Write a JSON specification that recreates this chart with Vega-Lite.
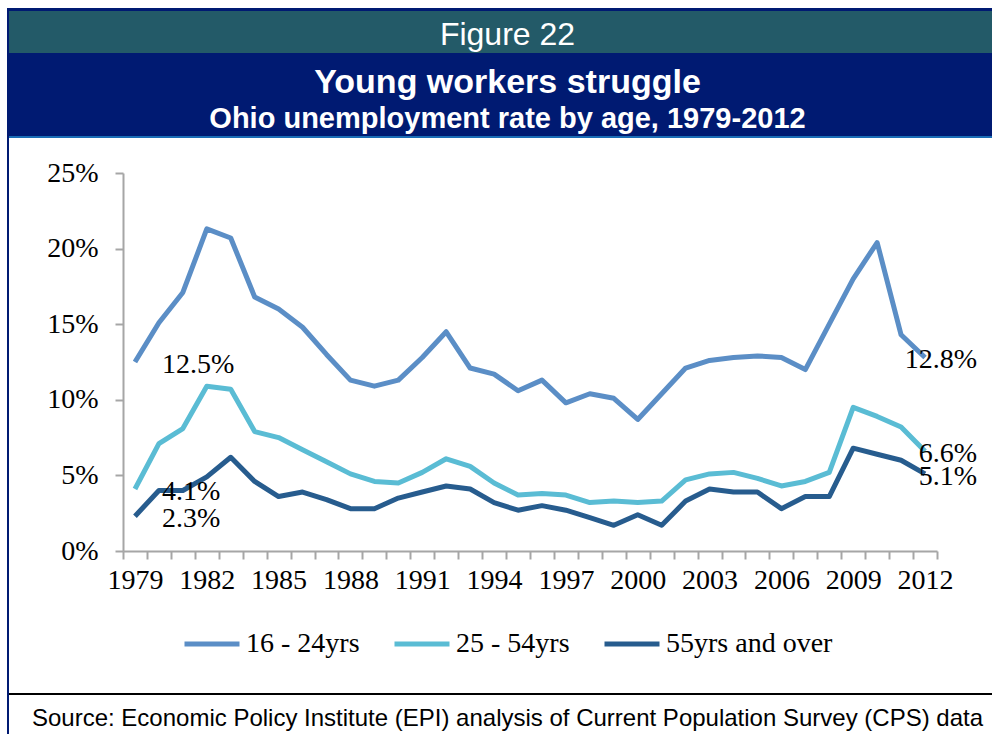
{
  "$schema": "https://vega.github.io/schema/vega-lite/v6.json",
  "background": "white",
  "padding": {"left": 7, "top": 8, "right": 0, "bottom": 0},
  "spacing": 0,
  "config": {
    "view": {"stroke": null},
    "concat": {"spacing": 0}
  },
  "datasets": {
    "unemp": [
      {"year": 1979, "age": "16 - 24yrs", "rate": 0.125, "label": "12.5%"},
      {"year": 1980, "age": "16 - 24yrs", "rate": 0.151},
      {"year": 1981, "age": "16 - 24yrs", "rate": 0.171},
      {"year": 1982, "age": "16 - 24yrs", "rate": 0.213},
      {"year": 1983, "age": "16 - 24yrs", "rate": 0.207},
      {"year": 1984, "age": "16 - 24yrs", "rate": 0.168},
      {"year": 1985, "age": "16 - 24yrs", "rate": 0.160},
      {"year": 1986, "age": "16 - 24yrs", "rate": 0.148},
      {"year": 1987, "age": "16 - 24yrs", "rate": 0.130},
      {"year": 1988, "age": "16 - 24yrs", "rate": 0.113},
      {"year": 1989, "age": "16 - 24yrs", "rate": 0.109},
      {"year": 1990, "age": "16 - 24yrs", "rate": 0.113},
      {"year": 1991, "age": "16 - 24yrs", "rate": 0.128},
      {"year": 1992, "age": "16 - 24yrs", "rate": 0.145},
      {"year": 1993, "age": "16 - 24yrs", "rate": 0.121},
      {"year": 1994, "age": "16 - 24yrs", "rate": 0.117},
      {"year": 1995, "age": "16 - 24yrs", "rate": 0.106},
      {"year": 1996, "age": "16 - 24yrs", "rate": 0.113},
      {"year": 1997, "age": "16 - 24yrs", "rate": 0.098},
      {"year": 1998, "age": "16 - 24yrs", "rate": 0.104},
      {"year": 1999, "age": "16 - 24yrs", "rate": 0.101},
      {"year": 2000, "age": "16 - 24yrs", "rate": 0.087},
      {"year": 2001, "age": "16 - 24yrs", "rate": 0.104},
      {"year": 2002, "age": "16 - 24yrs", "rate": 0.121},
      {"year": 2003, "age": "16 - 24yrs", "rate": 0.126},
      {"year": 2004, "age": "16 - 24yrs", "rate": 0.128},
      {"year": 2005, "age": "16 - 24yrs", "rate": 0.129},
      {"year": 2006, "age": "16 - 24yrs", "rate": 0.128},
      {"year": 2007, "age": "16 - 24yrs", "rate": 0.120},
      {"year": 2008, "age": "16 - 24yrs", "rate": 0.150},
      {"year": 2009, "age": "16 - 24yrs", "rate": 0.180},
      {"year": 2010, "age": "16 - 24yrs", "rate": 0.204},
      {"year": 2011, "age": "16 - 24yrs", "rate": 0.143},
      {"year": 2012, "age": "16 - 24yrs", "rate": 0.128, "label": "12.8%"},
      {"year": 1979, "age": "25 - 54yrs", "rate": 0.041, "label": "4.1%"},
      {"year": 1980, "age": "25 - 54yrs", "rate": 0.071},
      {"year": 1981, "age": "25 - 54yrs", "rate": 0.081},
      {"year": 1982, "age": "25 - 54yrs", "rate": 0.109},
      {"year": 1983, "age": "25 - 54yrs", "rate": 0.107},
      {"year": 1984, "age": "25 - 54yrs", "rate": 0.079},
      {"year": 1985, "age": "25 - 54yrs", "rate": 0.075},
      {"year": 1986, "age": "25 - 54yrs", "rate": 0.067},
      {"year": 1987, "age": "25 - 54yrs", "rate": 0.059},
      {"year": 1988, "age": "25 - 54yrs", "rate": 0.051},
      {"year": 1989, "age": "25 - 54yrs", "rate": 0.046},
      {"year": 1990, "age": "25 - 54yrs", "rate": 0.045},
      {"year": 1991, "age": "25 - 54yrs", "rate": 0.052},
      {"year": 1992, "age": "25 - 54yrs", "rate": 0.061},
      {"year": 1993, "age": "25 - 54yrs", "rate": 0.056},
      {"year": 1994, "age": "25 - 54yrs", "rate": 0.045},
      {"year": 1995, "age": "25 - 54yrs", "rate": 0.037},
      {"year": 1996, "age": "25 - 54yrs", "rate": 0.038},
      {"year": 1997, "age": "25 - 54yrs", "rate": 0.037},
      {"year": 1998, "age": "25 - 54yrs", "rate": 0.032},
      {"year": 1999, "age": "25 - 54yrs", "rate": 0.033},
      {"year": 2000, "age": "25 - 54yrs", "rate": 0.032},
      {"year": 2001, "age": "25 - 54yrs", "rate": 0.033},
      {"year": 2002, "age": "25 - 54yrs", "rate": 0.047},
      {"year": 2003, "age": "25 - 54yrs", "rate": 0.051},
      {"year": 2004, "age": "25 - 54yrs", "rate": 0.052},
      {"year": 2005, "age": "25 - 54yrs", "rate": 0.048},
      {"year": 2006, "age": "25 - 54yrs", "rate": 0.043},
      {"year": 2007, "age": "25 - 54yrs", "rate": 0.046},
      {"year": 2008, "age": "25 - 54yrs", "rate": 0.052},
      {"year": 2009, "age": "25 - 54yrs", "rate": 0.095},
      {"year": 2010, "age": "25 - 54yrs", "rate": 0.089},
      {"year": 2011, "age": "25 - 54yrs", "rate": 0.082},
      {"year": 2012, "age": "25 - 54yrs", "rate": 0.066, "label": "6.6%"},
      {"year": 1979, "age": "55yrs and over", "rate": 0.023, "label": "2.3%"},
      {"year": 1980, "age": "55yrs and over", "rate": 0.040},
      {"year": 1981, "age": "55yrs and over", "rate": 0.040},
      {"year": 1982, "age": "55yrs and over", "rate": 0.049},
      {"year": 1983, "age": "55yrs and over", "rate": 0.062},
      {"year": 1984, "age": "55yrs and over", "rate": 0.046},
      {"year": 1985, "age": "55yrs and over", "rate": 0.036},
      {"year": 1986, "age": "55yrs and over", "rate": 0.039},
      {"year": 1987, "age": "55yrs and over", "rate": 0.034},
      {"year": 1988, "age": "55yrs and over", "rate": 0.028},
      {"year": 1989, "age": "55yrs and over", "rate": 0.028},
      {"year": 1990, "age": "55yrs and over", "rate": 0.035},
      {"year": 1991, "age": "55yrs and over", "rate": 0.039},
      {"year": 1992, "age": "55yrs and over", "rate": 0.043},
      {"year": 1993, "age": "55yrs and over", "rate": 0.041},
      {"year": 1994, "age": "55yrs and over", "rate": 0.032},
      {"year": 1995, "age": "55yrs and over", "rate": 0.027},
      {"year": 1996, "age": "55yrs and over", "rate": 0.030},
      {"year": 1997, "age": "55yrs and over", "rate": 0.027},
      {"year": 1998, "age": "55yrs and over", "rate": 0.022},
      {"year": 1999, "age": "55yrs and over", "rate": 0.017},
      {"year": 2000, "age": "55yrs and over", "rate": 0.024},
      {"year": 2001, "age": "55yrs and over", "rate": 0.017},
      {"year": 2002, "age": "55yrs and over", "rate": 0.033},
      {"year": 2003, "age": "55yrs and over", "rate": 0.041},
      {"year": 2004, "age": "55yrs and over", "rate": 0.039},
      {"year": 2005, "age": "55yrs and over", "rate": 0.039},
      {"year": 2006, "age": "55yrs and over", "rate": 0.028},
      {"year": 2007, "age": "55yrs and over", "rate": 0.036},
      {"year": 2008, "age": "55yrs and over", "rate": 0.036},
      {"year": 2009, "age": "55yrs and over", "rate": 0.068},
      {"year": 2010, "age": "55yrs and over", "rate": 0.064},
      {"year": 2011, "age": "55yrs and over", "rate": 0.060},
      {"year": 2012, "age": "55yrs and over", "rate": 0.051, "label": "5.1%"}
    ],
    "blank": [{"t": ""}]
  },
  "hconcat": [
    {
      "width": 2, "height": 726,
      "view": {"fill": "#001A72", "stroke": null},
      "data": {"name": "blank"},
      "mark": {"type": "text", "fontSize": 1},
      "encoding": {"text": {"field": "t"}}
    },
    {
      "spacing": 0,
      "vconcat": [
        {
          "width": 997, "height": 3,
          "view": {"fill": "#001A72", "stroke": null},
          "data": {"name": "blank"},
          "mark": {"type": "text", "fontSize": 1},
          "encoding": {"text": {"field": "t"}}
        },
        {
          "width": 997, "height": 42,
          "view": {"fill": "#235A68", "stroke": null},
          "data": {"values": [{"t": "Figure 22"}]},
          "mark": {"type": "text", "font": "Liberation Sans", "fontSize": 32, "color": "white", "baseline": "middle", "dy": 3},
          "encoding": {"text": {"field": "t"}}
        },
        {
          "width": 997, "height": 83,
          "view": {"fill": "#001A72", "stroke": null},
          "layer": [
            {
              "data": {"values": [{"t": "Young workers struggle"}]},
              "mark": {"type": "text", "font": "Liberation Sans", "fontWeight": "bold", "fontSize": 34, "color": "white", "baseline": "middle", "dy": -12},
              "encoding": {"text": {"field": "t"}}
            },
            {
              "data": {"values": [{"t": "Ohio unemployment rate by age, 1979-2012"}]},
              "mark": {"type": "text", "font": "Liberation Sans", "fontWeight": "bold", "fontSize": 29, "color": "white", "baseline": "middle", "dy": 24},
              "encoding": {"text": {"field": "t"}}
            }
          ]
        },
        {
          "width": 997, "height": 2,
          "view": {"fill": "#1A6DB6", "stroke": null},
          "data": {"name": "blank"},
          "mark": {"type": "text", "fontSize": 1},
          "encoding": {"text": {"field": "t"}}
        },
        {
          "width": 997, "height": 21,
          "data": {"name": "blank"},
          "mark": {"type": "text", "fontSize": 1},
          "encoding": {"text": {"field": "t"}}
        },
        {
          "spacing": 0,
          "hconcat": [
            {
              "width": 1, "height": 378,
              "data": {"name": "blank"},
              "mark": {"type": "text", "fontSize": 1},
              "encoding": {"text": {"field": "t"}}
            },
            {
              "width": 814, "height": 378,
              "data": {"name": "unemp"},
              "encoding": {
                "x": {
                  "field": "year", "type": "ordinal", "bandPosition": 0.5,
                  "scale": {"type": "band", "paddingInner": 0, "paddingOuter": 0},
                  "axis": {
                    "title": null,
                    "labelExpr": "(datum.value - 1979) % 3 === 0 ? datum.label : ''",
                    "labelAngle": 0, "labelOverlap": false,
                    "labelFont": "Liberation Serif", "labelFontSize": 28, "labelColor": "black",
                    "labelPadding": 7,
                    "tickBand": "extent", "tickSize": 8, "tickWidth": 2, "tickColor": "#A6A6A6",
                    "domainColor": "#A6A6A6", "domainWidth": 2, "grid": false
                  }
                },
                "y": {
                  "field": "rate", "type": "quantitative",
                  "scale": {"domain": [0, 0.25]},
                  "axis": {
                    "title": null,
                    "values": [0, 0.05, 0.1, 0.15, 0.2, 0.25],
                    "format": ".0%",
                    "labelFont": "Liberation Serif", "labelFontSize": 28, "labelColor": "black",
                    "labelPadding": 17, "minExtent": 113, "maxExtent": 113,
                    "tickSize": 8, "tickWidth": 2, "tickColor": "#A6A6A6",
                    "domainColor": "#A6A6A6", "domainWidth": 2, "grid": false
                  }
                }
              },
              "layer": [
                {
                  "mark": {"type": "line", "strokeWidth": 5, "strokeJoin": "round"},
                  "encoding": {
                    "color": {
                      "field": "age", "type": "nominal",
                      "scale": {"domain": ["16 - 24yrs", "25 - 54yrs", "55yrs and over"], "range": ["#5B8EC6", "#5ABCD4", "#275C8E"]},
                      "legend": {
                        "orient": "none", "legendX": 175, "legendY": 606,
                        "direction": "horizontal", "columns": 3, "title": null,
                        "symbolType": "stroke", "symbolStrokeWidth": 5, "symbolSize": 3025,
                        "labelFont": "Liberation Serif", "labelFontSize": 28, "labelColor": "black",
                        "labelOffset": 4, "columnPadding": 24, "labelLimit": 400
                      }
                    }
                  }
                },
                {
                  "transform": [{"filter": "datum.year === 1979"}],
                  "mark": {"type": "text", "align": "left", "baseline": "middle", "dx": 27, "dy": 3, "font": "Liberation Serif", "fontSize": 28, "color": "black"},
                  "encoding": {"text": {"field": "label"}}
                },
                {
                  "transform": [{"filter": "datum.year === 2012"}],
                  "mark": {"type": "text", "align": "right", "baseline": "middle", "dx": 52, "dy": 3, "font": "Liberation Serif", "fontSize": 28, "color": "black"},
                  "encoding": {"text": {"field": "label"}}
                }
              ]
            }
          ]
        },
        {
          "width": 997, "height": 99,
          "data": {"name": "blank"},
          "mark": {"type": "text", "fontSize": 1},
          "encoding": {"text": {"field": "t"}}
        },
        {
          "width": 997, "height": 2,
          "view": {"fill": "black", "stroke": null},
          "data": {"name": "blank"},
          "mark": {"type": "text", "fontSize": 1},
          "encoding": {"text": {"field": "t"}}
        },
        {
          "width": 997, "height": 39,
          "data": {"values": [{"t": "Source:  Economic Policy Institute (EPI) analysis of Current Population Survey (CPS) data"}]},
          "mark": {"type": "text", "font": "Liberation Sans", "fontSize": 24, "color": "black", "baseline": "middle", "dy": 4},
          "encoding": {"text": {"field": "t"}}
        }
      ]
    }
  ]
}
